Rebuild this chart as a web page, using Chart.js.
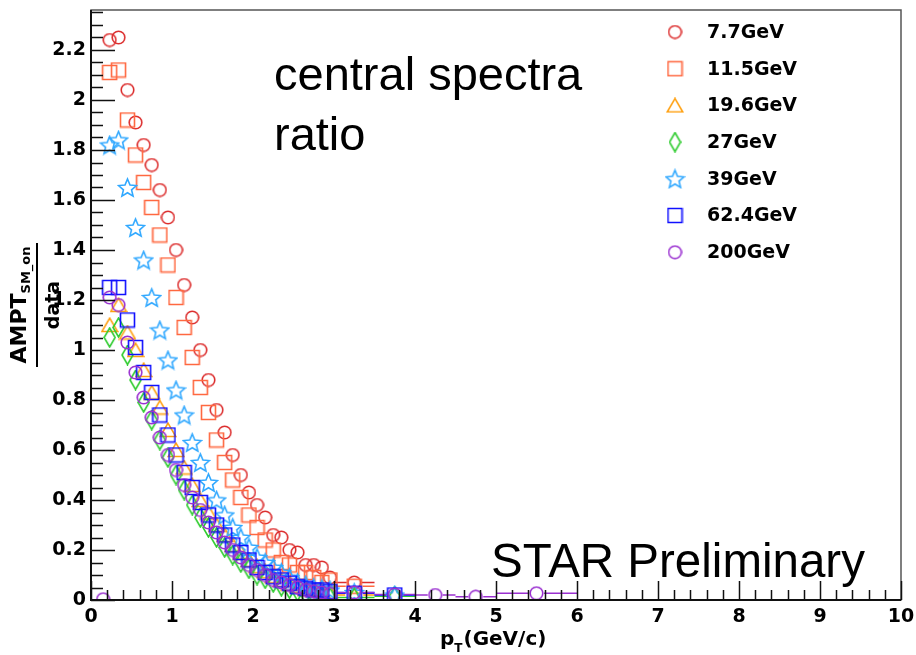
<!DOCTYPE html>
<html>
<head>
<meta charset="utf-8">
<script src="https://cdn.jsdelivr.net/npm/chart.js@4.4.1/dist/chart.umd.min.js"></script>
<style>
    html, body { margin: 0; padding: 0; background: #fff; }
</style>
</head>
<body>
<canvas id="myChart" width="916" height="655"></canvas>
<script>
// values (bin centres in pT, ratio per energy)
const pt = [0.15, 0.23, 0.34, 0.45, 0.55, 0.65, 0.75, 0.85, 0.95, 1.05, 1.15, 1.25, 1.35, 1.45, 1.55, 1.65, 1.75,
    1.85, 1.95, 2.05, 2.15, 2.25, 2.35, 2.45, 2.55, 2.65, 2.75, 2.85, 2.95, 3.25, 3.75, 4.25, 4.75, 5.5]
const ptErr = [0.05, 0.05, 0.05, 0.05, 0.05, 0.05, 0.05, 0.05, 0.05, 0.05, 0.05, 0.05, 0.05, 0.05, 0.05, 0.05, 0.05,
    0.05, 0.05, 0.05, 0.05, 0.05, 0.05, 0.05, 0.05, 0.05, 0.05, 0.05, 0.05, 0.25, 0.25, 0.25, 0.25, 0.5]

const r7 = [null, 2.24, 2.25, 2.04, 1.91, 1.82, 1.74, 1.64, 1.53, 1.40, 1.26, 1.13, 1.00, 0.88, 0.76, 0.67, 0.58,
    0.50, 0.43, 0.38, 0.33, 0.26, 0.25, 0.20, 0.19, 0.14, 0.14, 0.13, 0.09, 0.07, null, null, null, null]
const r11 = [null, 2.11, 2.12, 1.92, 1.78, 1.67, 1.57, 1.46, 1.34, 1.21, 1.09, 0.97, 0.85, 0.75, 0.64, 0.55, 0.48,
    0.41, 0.34, 0.29, 0.24, 0.20, 0.15, 0.14, 0.11, 0.11, 0.09, 0.07, 0.08, 0.055, null, null, null, null]
const r19 = [null, 1.10, 1.18, 1.07, 1.00, 0.92, 0.83, 0.77, 0.68, 0.60, 0.53, 0.46, 0.40, 0.35, 0.30, 0.26, 0.22,
    0.19, 0.16, 0.135, 0.115, 0.095, 0.08, 0.065, 0.055, 0.045, 0.04, 0.035, 0.03, 0.02, null, null, null, null]
const r27 = [null, 1.05, 1.09, 0.98, 0.88, 0.79, 0.72, 0.64, 0.57, 0.50, 0.44, 0.38, 0.33, 0.29, 0.25, 0.21, 0.18,
    0.15, 0.125, 0.10, 0.085, 0.07, 0.055, 0.045, 0.035, 0.025, 0.02, 0.015, 0.01, 0.01, 0.015, null, null, null]
const r39 = [null, 1.82, 1.84, 1.65, 1.49, 1.36, 1.21, 1.08, 0.96, 0.84, 0.74, 0.63, 0.55, 0.47, 0.40, 0.34, 0.29,
    0.25, 0.21, 0.17, 0.15, 0.13, 0.11, 0.09, 0.07, 0.06, 0.05, 0.045, 0.04, 0.03, 0.02, null, null, null]
const r62 = [null, 1.25, 1.25, 1.12, 1.01, 0.91, 0.83, 0.74, 0.66, 0.58, 0.51, 0.45, 0.39, 0.34, 0.30, 0.26, 0.22,
    0.19, 0.16, 0.13, 0.11, 0.093, 0.08, 0.067, 0.053, 0.047, 0.04, 0.04, 0.033, 0.027, 0.02, null, null, null]
const r200 = [0.003, 1.21, 1.18, 1.03, 0.91, 0.81, 0.73, 0.65, 0.58, 0.52, 0.46, 0.41, 0.36, 0.31, 0.27, 0.23, 0.20,
    0.17, 0.14, 0.12, 0.10, 0.08, 0.07, 0.06, 0.05, 0.04, 0.035, 0.03, 0.025, 0.03, 0.022, 0.02, 0.013, 0.027]

const energies = ["7.7GeV", "11.5GeV", "19.6GeV", "27GeV", "39GeV", "62.4GeV", "200GeV"]
const xTicks = [0, 1, 2, 3, 4, 5, 6, 7, 8, 9, 10]
const xTickLabels = ["0", "1", "2", "3", "4", "5", "6", "7", "8", "9", "10"]
const yTicks = [0, 0.2, 0.4, 0.6, 0.8, 1, 1.2, 1.4, 1.6, 1.8, 2, 2.2]
const yTickLabels = ["0", "0.2", "0.4", "0.6", "0.8", "1", "1.2", "1.4", "1.6", "1.8", "2", "2.2"]

const series = [r7, r11, r19, r27, r39, r62, r200]
const colors = ["#dc2e2e", "#ff6840", "#ffa010", "#30cc30", "#30a8ff", "#1010ff", "#9a30d0"]
const shapes = ["circle", "square", "triangle", "diamond", "star", "square", "circle"]

const tickFont = { family: "DejaVu Sans", size: 19, weight: "bold", lineHeight: 1 }

function main() {
    const markers = shapes.map((s, i) => buildMarker(s, colors[i]))
    buildChart("myChart", markers)
}

// functions
function buildMarker(shape, color) {
    const size = { circle: [15, 15], square: [17, 17], triangle: [18, 16], diamond: [13, 21], star: [21, 21] }[shape]
    const c = document.createElement("canvas")
    c.width = size[0]
    c.height = size[1]
    const g = c.getContext("2d")
    const w = size[0], h = size[1], mx = w / 2, my = h / 2
    g.strokeStyle = color
    g.lineWidth = 1.6
    g.beginPath()
    if (shape === "circle") {
        g.arc(mx, my, mx - 1.2, 0, 2 * Math.PI)
    } else if (shape === "square") {
        g.rect(1.5, 1.5, w - 3, h - 3)
    } else if (shape === "triangle") {
        g.moveTo(mx, 1.2)
        g.lineTo(w - 1.2, h - 1.5)
        g.lineTo(1.2, h - 1.5)
        g.closePath()
    } else if (shape === "diamond") {
        g.moveTo(mx, 1)
        g.lineTo(w - 1, my)
        g.lineTo(mx, h - 1)
        g.lineTo(1, my)
        g.closePath()
    } else if (shape === "star") {
        const R = mx - 1, r = R * 0.45
        for (let k = 0; k < 10; k++) {
            const a = -Math.PI / 2 + k * Math.PI / 5
            const rr = k % 2 ? r : R
            const px = mx + rr * Math.cos(a), py = my + 1 + rr * Math.sin(a)
            if (k === 0) g.moveTo(px, py)
            else g.lineTo(px, py)
        }
        g.closePath()
    }
    g.stroke()
    return c
}

function buildDatasets(markers) {
    return series.map((vals, i) => ({
        label: energies[i],
        data: pt.map((x, j) => ({ x: x, y: vals[j], err: ptErr[j] })).filter(p => p.y !== null),
        pointStyle: markers[i],
        borderColor: colors[i],
        backgroundColor: colors[i],
        showLine: false,
        order: series.length - i
    }))
}

// horizontal bin-width bars, drawn under the markers and not through them
const binBars = {
    id: "binBars",
    beforeDatasetsDraw(chart) {
        const { ctx, scales: { x, y } } = chart
        ctx.save()
        ctx.lineWidth = 1.5
        chart.data.datasets.forEach(ds => {
            ctx.strokeStyle = ds.borderColor
            const half = ds.pointStyle.width / 2
            ds.data.forEach(p => {
                const px = x.getPixelForValue(p.x)
                const py = y.getPixelForValue(p.y)
                const lo = x.getPixelForValue(p.x - p.err)
                const hi = x.getPixelForValue(p.x + p.err)
                ctx.beginPath()
                if (px - half > lo) {
                    ctx.moveTo(lo, py)
                    ctx.lineTo(px - half, py)
                }
                if (px + half < hi) {
                    ctx.moveTo(px + half, py)
                    ctx.lineTo(hi, py)
                }
                ctx.stroke()
            })
        })
        ctx.restore()
    }
}

// ROOT style frame with inward ticks, legend and labels
const rootFrame = {
    id: "rootFrame",
    afterDraw(chart) {
        const { ctx, chartArea: a, scales: { x, y } } = chart
        ctx.save()
        ctx.strokeStyle = "#555"
        ctx.lineWidth = 1.5
        ctx.strokeRect(a.left, a.top, a.right - a.left, a.bottom - a.top)

        ctx.strokeStyle = "#111"
        ctx.lineWidth = 2
        ctx.beginPath()
        ctx.moveTo(a.left, a.top)
        ctx.lineTo(a.left, a.bottom)
        ctx.lineTo(a.right, a.bottom)
        ctx.stroke()

        ctx.lineWidth = 1.5
        ctx.beginPath()
        for (let i = 0; i <= 47; i++) {
            const py = Math.round(y.getPixelForValue(i * 0.05)) + 0.5
            ctx.moveTo(a.left, py)
            ctx.lineTo(a.left + (i % 4 === 0 ? 24 : 12), py)
        }
        for (let i = 0; i <= 50; i++) {
            const px = Math.round(x.getPixelForValue(i * 0.2)) + 0.5
            ctx.moveTo(px, a.bottom)
            ctx.lineTo(px, a.bottom - (i % 5 === 0 ? 19 : 10))
        }
        ctx.stroke()

        // legend
        const markers = chart.data.datasets.map(d => d.pointStyle)
        ctx.fillStyle = "#000"
        ctx.font = "bold 19px 'DejaVu Sans'"
        ctx.textBaseline = "middle"
        ctx.textAlign = "left"
        energies.forEach((lab, i) => {
            const ly = 32 + i * 36.7
            const m = markers[i]
            ctx.drawImage(m, 675 - m.width / 2, ly - m.height / 2)
            ctx.fillText(lab, 707, ly + 1)
        })

        // text labels
        ctx.textBaseline = "alphabetic"
        ctx.font = "47px 'Liberation Sans'"
        ctx.fillText("central spectra", 274, 90)
        ctx.fillText("ratio", 274, 150)
        ctx.font = "47.5px 'Liberation Sans'"
        ctx.fillText("STAR Preliminary", 491, 577)

        // x title
        ctx.font = "bold 20px 'DejaVu Sans'"
        let tx = 440
        ctx.fillText("p", tx, 645)
        tx += ctx.measureText("p").width
        ctx.font = "bold 12px 'DejaVu Sans'"
        ctx.fillText("T", tx, 652)
        tx += ctx.measureText("T").width + 1
        ctx.font = "bold 20px 'DejaVu Sans'"
        ctx.fillText("(GeV/c)", tx, 645)

        // y title as a fraction
        ctx.translate(0, 305)
        ctx.rotate(-Math.PI / 2)
        ctx.font = "bold 22px 'DejaVu Sans'"
        const wMain = ctx.measureText("AMPT").width
        ctx.font = "bold 13px 'DejaVu Sans'"
        const wSub = ctx.measureText("SM_on").width
        const sx = -(wMain + wSub) / 2
        ctx.font = "bold 22px 'DejaVu Sans'"
        ctx.fillText("AMPT", sx, 26)
        ctx.font = "bold 13px 'DejaVu Sans'"
        ctx.fillText("SM_on", sx + wMain, 30)
        ctx.fillRect(-62, 36, 124, 2)
        ctx.font = "bold 19px 'DejaVu Sans'"
        ctx.textAlign = "center"
        ctx.fillText("data", 0, 59)
        ctx.restore()
    }
}

function buildChart(canvasId, markers) {
    const el = document.getElementById(canvasId)

    new Chart(el, {
        type: "scatter",
        data: {
            datasets: buildDatasets(markers)
        },
        options: {
            responsive: false,
            animation: false,
            layout: { padding: { top: 10, right: 15, left: 0, bottom: 0 } },
            plugins: {
                legend: { display: false },
                tooltip: { enabled: false }
            },
            scales: {
                x: {
                    type: "linear",
                    min: 0,
                    max: 10,
                    afterFit: s => {
                        s.height = 55
                        s.paddingLeft = 0
                        s.paddingRight = 0
                    },
                    afterBuildTicks: s => { s.ticks = xTicks.map(v => ({ value: v })) },
                    grid: { display: false, drawTicks: false },
                    border: { display: false },
                    ticks: {
                        autoSkip: false,
                        maxRotation: 0,
                        padding: 8,
                        color: "#000",
                        font: tickFont,
                        callback: (v, i) => xTickLabels[i]
                    }
                },
                y: {
                    type: "linear",
                    min: 0,
                    max: 2.36,
                    afterFit: s => {
                        s.width = 91
                        s.paddingTop = 0
                        s.paddingBottom = 0
                    },
                    afterBuildTicks: s => { s.ticks = yTicks.map(v => ({ value: v })) },
                    grid: { display: false, drawTicks: false },
                    border: { display: false },
                    ticks: {
                        autoSkip: false,
                        padding: 5,
                        color: "#000",
                        font: tickFont,
                        callback: (v, i) => yTickLabels[i]
                    }
                }
            }
        },
        plugins: [binBars, rootFrame]
    })
}

// listeners
document.addEventListener("DOMContentLoaded", main)
</script>
</body>
</html>
